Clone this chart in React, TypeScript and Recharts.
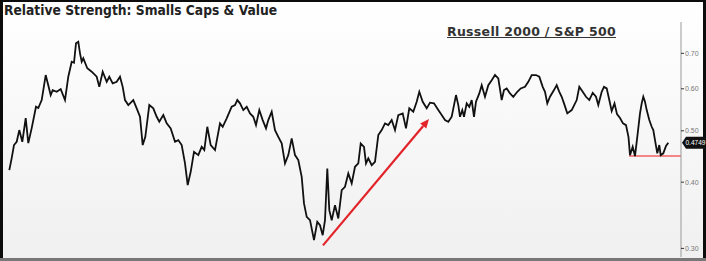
import React from "react";
import {
    LineChart,
    Line,
    XAxis,
    YAxis,
    ReferenceLine,
    ReferenceDot,
} from "recharts";

// time index (weeks from start) and Russell 2000 / S&P 500 ratio
const weeks = [
    5.3, 7.7, 10, 12.7, 15.3, 18.3, 21.7, 24.3, 27.7, 32, 34.3, 37.7, 41.7, 46.7, 48.7, 52.7, 56.7, 61, 64.3, 67.7,
    70, 72, 74.3, 76, 77.7, 79.3, 83.3, 87.7, 92.7, 95.3, 98.7, 102.7, 105.3, 108.7, 112.7, 116, 118.7, 121, 124.3, 129.3,
    132.7, 136, 138.7, 141.3, 145.3, 149.3, 152.7, 155.3, 159.3, 162.7, 166.7, 171, 174.3, 177.7, 181, 183.7, 186.7, 190, 194.3, 197.7,
    200.3, 203.3, 206.7, 211, 216, 218.7, 222.7, 227.7, 231, 233.3, 236, 239.3, 242.7, 246, 249.3, 252, 255.3, 258.7, 262, 264.3,
    267.7, 271, 274.3, 277.7, 281, 284.3, 287.7, 291, 294.3, 297.7, 300, 302.7, 306, 310, 313.3, 316, 318.7, 321, 323.3, 325.3,
    327.7, 331, 334.3, 337.7, 341, 344.3, 347.7, 351, 354.3, 356.7, 360, 362, 364.3, 367.7, 371, 374.3, 377.7, 381, 384.3, 387.7,
    391, 394.3, 398.7, 402, 405.3, 409.3, 412.7, 415.3, 418.7, 422.7, 426, 430, 434.3, 437.7, 441, 444.3, 447.7, 452, 454.3, 456,
    458.3, 460, 462.7, 465.3, 467.7, 470, 472, 475.3, 477.7, 481, 484.3, 487.7, 491, 494.3, 497.7, 500, 502.7, 506, 509.3, 513.3,
    516.7, 521, 524.3, 527.7, 532, 535.3, 538.7, 541, 543.3, 546, 550, 552.7, 555.3, 557.7, 560, 563.3, 567.7, 572.7, 575.3, 578.7,
    582, 585.3, 588.7, 592, 594.3, 597.7, 600, 602.7, 605.3, 607.7, 610.5, 613, 616, 619, 622, 624.5, 626, 628.7, 631, 633.3,
    636, 637.7, 639.3, 641, 642.7, 645.3, 647.7, 649.3, 651, 653.3, 655.3, 656.7, 659.3, 662, 664.3,
];

const ratio = [
    0.4215, 0.4441, 0.47, 0.4767, 0.5015, 0.4767, 0.5284, 0.474, 0.5059, 0.555, 0.5519, 0.5714, 0.637, 0.5839, 0.5967, 0.5923, 0.5993, 0.5714, 0.6323, 0.675,
    0.672, 0.731, 0.7362, 0.7, 0.675, 0.6849, 0.656, 0.6462, 0.6323, 0.6051, 0.6462, 0.6184, 0.6323, 0.6142, 0.6184, 0.6323, 0.6051, 0.5714, 0.5591, 0.5714,
    0.5512, 0.5314, 0.4699, 0.4871, 0.5591, 0.5512, 0.5314, 0.52, 0.5353, 0.5164, 0.5053, 0.4767, 0.4802, 0.4699, 0.434, 0.3949, 0.4184, 0.4564, 0.4499, 0.4664,
    0.4598, 0.5088, 0.4699, 0.4598, 0.5164, 0.5088, 0.5277, 0.555, 0.5591, 0.5714, 0.5633, 0.5471, 0.555, 0.5393, 0.5314, 0.5125, 0.5471, 0.5238, 0.5053, 0.5238,
    0.5431, 0.5015, 0.4871, 0.4734, 0.434, 0.4499, 0.4838, 0.4499, 0.4402, 0.4094, 0.3647, 0.344, 0.3391, 0.3109, 0.3366, 0.3318, 0.3177, 0.3391, 0.4246, 0.3542,
    0.3391, 0.362, 0.3417, 0.3864, 0.392, 0.4155, 0.3979, 0.4276, 0.434, 0.4734, 0.4664, 0.434, 0.4435, 0.4307, 0.437, 0.4907, 0.5015, 0.5164, 0.5125, 0.5238,
    0.5015, 0.5353, 0.5393, 0.5053, 0.5512, 0.5431, 0.5672, 0.5923, 0.5672, 0.5512, 0.565, 0.5633, 0.5471, 0.5353, 0.5238, 0.52, 0.5314, 0.5839, 0.5591, 0.5314,
    0.5471, 0.5314, 0.5633, 0.555, 0.5714, 0.5314, 0.5672, 0.5882, 0.6096, 0.5796, 0.6096, 0.623, 0.637, 0.628, 0.5714, 0.5967, 0.601, 0.5882, 0.5796, 0.5923,
    0.601, 0.6051, 0.6184, 0.637, 0.637, 0.6323, 0.6051, 0.5923, 0.5633, 0.5796, 0.5967, 0.6096, 0.5923, 0.5796, 0.5633, 0.5393, 0.5471, 0.5714, 0.6051, 0.5923,
    0.5796, 0.5714, 0.5897, 0.5796, 0.5591, 0.5923, 0.6051, 0.601, 0.5714, 0.5447, 0.5633, 0.5376, 0.5284, 0.5164, 0.5125, 0.4865, 0.4499, 0.4664, 0.448, 0.4871,
    0.5393, 0.5633, 0.5796, 0.5672, 0.5471, 0.5238, 0.5088, 0.5015, 0.4802, 0.4533, 0.4699, 0.4499, 0.4533, 0.468, 0.4749,
];

const yTicks = [0.3, 0.4, 0.5, 0.6, 0.7];
const lastValue = 0.4749;
const supportLevel = 0.448;
const arrowFrom = { x: 319, y: 0.304 };
const arrowTo = { x: 425, y: 0.526 };

const data = weeks.map((t, i) => ({ t, v: ratio[i] }));

const ArrowShape = (props: any) => {
    const { x1, y1, x2, y2 } = props;
    const ang = Math.atan2(y2 - y1, x2 - x1);
    const len = 9;
    const w = 4;
    const bx = x2 - len * Math.cos(ang);
    const by = y2 - len * Math.sin(ang);
    const px = -Math.sin(ang) * w;
    const py = Math.cos(ang) * w;
    return (
        <g>
            <line x1={x1} y1={y1} x2={bx} y2={by} stroke="#e3232a" strokeWidth={2.2} />
            <polygon
                points={`${x2},${y2} ${bx + px},${by + py} ${bx - px},${by - py}`}
                fill="#e3232a"
            />
        </g>
    );
};

const TagShape = (props: any) => {
    const { cx, cy } = props;
    const x = cx + 1;
    return (
        <g>
            <path
                d={`M${x},${cy} L${x + 4},${cy - 6} L${x + 23},${cy - 6} L${x + 23},${cy + 6} L${x + 4},${cy + 6} Z`}
                fill="#111"
            />
            <text x={x + 3.5} y={cy + 2.4} fontSize={6.5} fill="#fff" fontFamily="Liberation Sans, Arial, sans-serif">
                {lastValue}
            </text>
        </g>
    );
};

export default function App() {
    return (
        <div
            style={{
                position: "absolute",
                left: 0,
                top: 0,
                width: 706,
                height: 261,
                background: "#0c0c0c",
                overflow: "hidden",
            }}
        >
            <div
                style={{
                    position: "absolute",
                    left: 3,
                    top: 2,
                    width: 700,
                    height: 256,
                    background: "linear-gradient(#ffffff, #f0f0f0)",
                }}
            />
            <div
                style={{
                    position: "absolute",
                    left: 0,
                    top: 258,
                    width: 706,
                    height: 3,
                    background: "#777",
                }}
            />

            <div
                style={{
                    position: "absolute",
                    left: 4,
                    top: 2,
                    fontFamily: "DejaVu Sans Condensed, DejaVu Sans, sans-serif",
                    fontWeight: "bold",
                    fontSize: 13.7,
                    color: "#222",
                    whiteSpace: "nowrap",
                }}
            >
                Relative Strength: Smalls Caps &amp; Value
            </div>

            <div
                style={{
                    position: "absolute",
                    left: 447,
                    top: 24,
                    fontFamily: "DejaVu Sans, sans-serif",
                    fontWeight: "bold",
                    fontSize: 12.5,
                    letterSpacing: 0.3,
                    color: "#333",
                    textDecoration: "underline",
                    whiteSpace: "nowrap",
                }}
            >
                Russell 2000 / S&amp;P 500
            </div>

            <LineChart
                width={706}
                height={261}
                data={data}
                margin={{ top: 22, right: 0, bottom: 4, left: 4 }}
                style={{ position: "absolute", left: 0, top: 0 }}
            >
                <XAxis dataKey="t" type="number" domain={[0, 677]} hide />
                <YAxis
                    orientation="right"
                    type="number"
                    scale="log"
                    domain={[0.289, 0.802]}
                    allowDataOverflow
                    ticks={yTicks}
                    tickFormatter={(v: number) => v.toFixed(2)}
                    width={25}
                    axisLine={{ stroke: "#999" }}
                    tickLine={{ stroke: "#333" }}
                    tickSize={3}
                    tickMargin={1}
                    tick={{ fontSize: 7, fill: "#777", fontFamily: "Liberation Sans, Arial, sans-serif" }}
                />

                <ReferenceLine
                    segment={[
                        { x: 625, y: supportLevel },
                        { x: 677, y: supportLevel },
                    ]}
                    stroke="#f06060"
                    strokeWidth={1.5}
                    ifOverflow="visible"
                />

                <ReferenceLine
                    segment={[arrowFrom, arrowTo]}
                    shape={ArrowShape}
                    ifOverflow="visible"
                />

                <Line
                    type="linear"
                    dataKey="v"
                    stroke="#111"
                    strokeWidth={1.8}
                    dot={false}
                    isAnimationActive={false}
                />

                <ReferenceDot
                    x={677}
                    y={lastValue}
                    shape={TagShape}
                    ifOverflow="visible"
                />
            </LineChart>
        </div>
    );
}
